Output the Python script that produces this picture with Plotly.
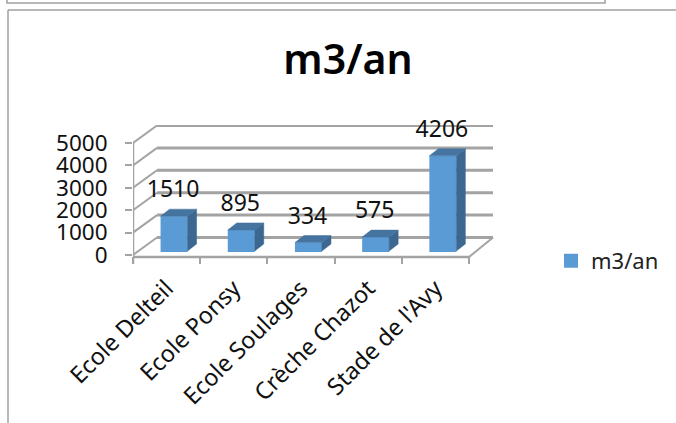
import plotly.graph_objects as go

categories = ["Ecole Delteil", "Ecole Ponsy", "Ecole Soulages", "Crèche Chazot", "Stade de l'Avy"]
values = [1510, 895, 334, 575, 4206]
value_ticks = [0, 1000, 2000, 3000, 4000, 5000]
series_name = "m3/an"
title_text = "m3/an"

W, H = 676, 423
FONT = "Noto Sans"
GRID = "#a3a3a3"
FRONT = "#5b9bd5"
SIDE = "#3b6790"
TOP = "#44749f"

# pixel layout of the plot window
PX_LEFT, PX_RIGHT, PX_TOP, PX_BOTTOM = 133, 494, 125, 264
X_UNIT = (469 - 133) / 5          # px per category
Y_UNIT = 22.4 / 1000              # px per value unit
x_range = [-0.5, -0.5 + (PX_RIGHT - PX_LEFT) / X_UNIT]
y_bottom = -(PX_BOTTOM - 255) / Y_UNIT
y_range = [y_bottom, y_bottom + (PX_BOTTOM - PX_TOP) / Y_UNIT]

# depth of the fake 3D
WALL_DX = 24 / X_UNIT
WALL_DY = 17.5 / Y_UNIT
BAR_DX = 9 / X_UNIT
BAR_DY = 7 / Y_UNIT
BAR_BASE = 4 / Y_UNIT
BAR_LEFT = -0.075
BAR_WIDTH = 25 / X_UNIT
BORDER = 2

fig = go.Figure()

fig.add_trace(go.Bar(
    x=list(range(len(values))), y=values, base=BAR_BASE,
    offset=BAR_LEFT, width=BAR_WIDTH, name=series_name,
    marker=dict(color=FRONT, line=dict(color=FRONT, width=BORDER)),
    showlegend=True, hoverinfo="skip",
))

side_x, side_y, top_x, top_y = [], [], [], []
pad_x = (BORDER / 2) / X_UNIT
pad_y = (BORDER / 2) / Y_UNIT
for i, v in enumerate(values):
    l = i + BAR_LEFT - pad_x
    r = i + BAR_LEFT + BAR_WIDTH + pad_x
    b = BAR_BASE
    t = BAR_BASE + v + pad_y
    side_x += [r, r + BAR_DX, r + BAR_DX, r, r, None]
    side_y += [b, b + BAR_DY, t + BAR_DY, t, b, None]
    top_x += [l, l + BAR_DX, r + BAR_DX, r, l, None]
    top_y += [t, t + BAR_DY, t + BAR_DY, t, t, None]

for xs, ys, c in ((side_x, side_y, SIDE), (top_x, top_y, TOP)):
    fig.add_trace(go.Scatter(
        x=xs, y=ys, mode="lines", fill="toself", fillcolor=c,
        line=dict(color=c, width=0.5), showlegend=False, hoverinfo="skip",
    ))

# data labels
LABEL_DX = 6.5 / X_UNIT
LABEL_DY = 25.5 / Y_UNIT
fig.add_trace(go.Scatter(
    x=[i + LABEL_DX for i in range(len(values))],
    y=[BAR_BASE + v + LABEL_DY for v in values],
    mode="text", text=[str(v) for v in values], textposition="middle center",
    textfont=dict(family=FONT, size=23, color="#111111"),
    cliponaxis=False, showlegend=False, hoverinfo="skip",
))

shapes = []
x0, x1 = -0.5, len(values) - 0.5
for t in value_ticks:
    shapes.append(dict(type="line", xref="x", yref="y", layer="below",
                       x0=x0 + WALL_DX, x1=x1 + WALL_DX, y0=t + WALL_DY, y1=t + WALL_DY,
                       line=dict(color=GRID, width=3)))
    shapes.append(dict(type="line", xref="x", yref="y", layer="below",
                       x0=x0, x1=x0 + WALL_DX, y0=t, y1=t + WALL_DY,
                       line=dict(color=GRID, width=2)))
FLOOR = -90
shapes += [
    dict(type="line", xref="x", yref="y", layer="below", x0=x0, x1=x0,
         y0=y_range[0], y1=value_ticks[-1], line=dict(color=GRID, width=2.5)),
    dict(type="line", xref="x", yref="y", layer="below", x0=x0, x1=x1,
         y0=FLOOR, y1=FLOOR, line=dict(color=GRID, width=2.5)),
    dict(type="line", xref="x", yref="y", layer="below", x0=x1, x1=x1 + WALL_DX,
         y0=FLOOR, y1=WALL_DY, line=dict(color=GRID, width=2)),
    # frames of the surrounding document
    dict(type="rect", xref="paper", yref="paper", x0=7 / W, x1=605 / W,
         y0=1 - 3 / H, y1=1 + 5 / H, line=dict(color="#a0a0a0", width=1.5)),
    dict(type="line", xref="paper", yref="paper", x0=8 / W, x1=1, y0=1 - 10 / H, y1=1 - 10 / H,
         line=dict(color="#a0a0a0", width=1.5)),
    dict(type="line", xref="paper", yref="paper", x0=8 / W, x1=8 / W, y0=1 - 10 / H, y1=0,
         line=dict(color="#a0a0a0", width=1.5)),
]

fig.update_layout(
    width=W, height=H, autosize=False,
    margin=dict(l=0, r=0, t=0, b=0, autoexpand=False),
    paper_bgcolor="white", plot_bgcolor="rgba(0,0,0,0)",
    font=dict(family=FONT, color="#111111"),
    title=dict(text=title_text, x=348 / W, xanchor="center", xref="paper",
               y=1 - 60 / H, yanchor="middle", yref="paper",
               font=dict(family=FONT, size=41, weight=600, color="#000000")),
    legend=dict(x=551 / W, y=1 - 261 / H, xanchor="left", yanchor="middle",
                font=dict(family=FONT, size=22, color="#222222"),
                bgcolor="rgba(0,0,0,0)"),
    shapes=shapes,
    xaxis=dict(domain=[PX_LEFT / W, PX_RIGHT / W], range=x_range, showgrid=False, zeroline=False,
               showline=False, tickmode="array", tickvals=list(range(len(categories))),
               ticktext=categories, tickangle=-45, ticks="", ticklabelstandoff=5,
               tickfont=dict(family=FONT, size=23.5, color="#111111"),
               minor=dict(tickmode="array", tickvals=[i - 0.5 for i in range(len(categories) + 1)],
                          ticks="inside", ticklen=7, tickwidth=2, tickcolor=GRID, showgrid=False)),
    yaxis=dict(domain=[1 - PX_BOTTOM / H, 1 - PX_TOP / H], range=y_range, showgrid=False, zeroline=False,
               showline=False, tickmode="array", tickvals=value_ticks, ticks="outside", ticklen=7,
               tickwidth=2, tickcolor=GRID, ticklabelstandoff=13,
               tickfont=dict(family=FONT, size=22.5, color="#111111")),
)

fig.write_html("out.html", config=dict(displayModeBar=False),
               post_script="document.body.style.margin='0';")
